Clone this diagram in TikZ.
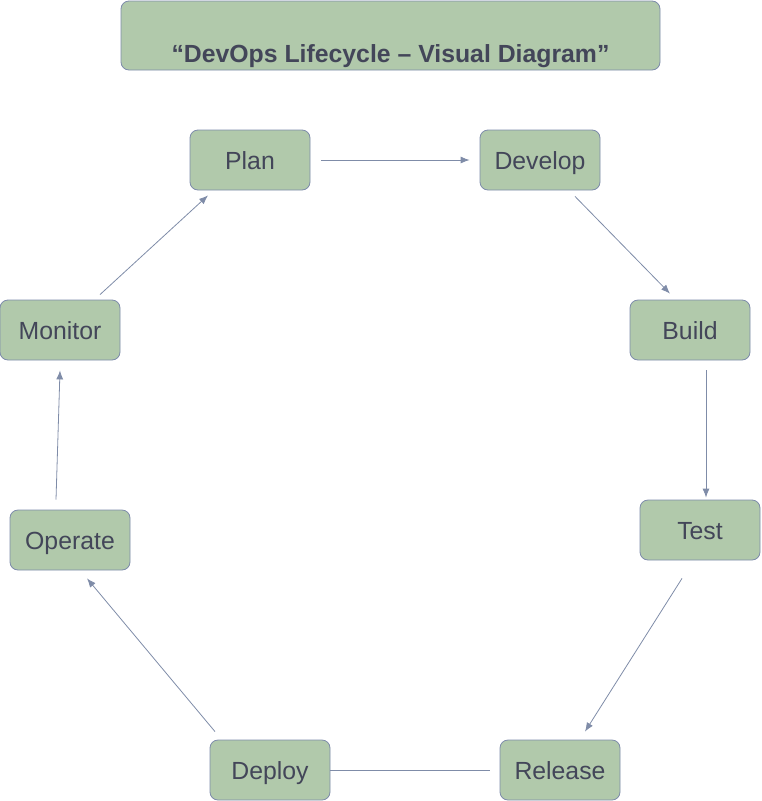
\documentclass[tikz,border=0pt]{standalone}
\usepackage{fontspec}
\setmainfont{Liberation Sans}
\usetikzlibrary{positioning}
\usetikzlibrary{calc}
\usetikzlibrary{arrows.meta}

\definecolor{boxfill}{HTML}{B1C9AB}
\definecolor{boxline}{HTML}{7D8BAA}
\definecolor{boxtext}{HTML}{434659}
\definecolor{flowline}{HTML}{7F8CA8}

\begin{document}
\begin{tikzpicture}[x=1pt,y=-1pt]
\tikzstyle{stage} =[rectangle,rounded corners=8pt,fill=boxfill,draw=boxline,line width=0.8pt,minimum width=120pt,minimum height=60pt,inner sep=0pt,text height=22pt,text depth=4pt,text=boxtext,font=\fontsize{24.8}{28}\selectfont]
\tikzstyle{titlebox} =[stage,minimum width=539pt,minimum height=69pt,text height=55pt,text depth=2pt,font=\fontsize{24.8}{28}\selectfont\bfseries]
\tikzstyle{flow} =[draw=flowline,line width=0.8pt,-{Latex[length=9pt,width=7pt]}]
\useasboundingbox (0,0) rectangle (762,801);

\node[titlebox](title) at (390.5,35.5){``DevOps Lifecycle -- Visual Diagram''};

\node[stage](Plan) at (250,160){Plan};
\node[stage](Develop) at (540,160){Develop};
\node[stage](Build) at (690,330){Build};
\node[stage](Test) at (700,530){Test};
\node[stage](Release) at (560,770){Release};
\node[stage](Deploy) at (270,770){Deploy};
\node[stage](Operate) at (70,540){Operate};
\node[stage](Monitor) at (60,330){Monitor};

\draw[flow,shorten <=11pt,shorten >=10pt] (Plan)--(Develop);
\draw[flow] ([xshift=35pt,yshift=-6pt]Develop.south)--([xshift=-20pt,yshift=6pt]Build.north);
\draw[flow] ([xshift=16pt,yshift=-10pt]Build.south)--([xshift=6pt,yshift=2pt]Test.north);
\draw[flow] ([xshift=-18pt,yshift=-18pt]Test.south)--([xshift=25pt,yshift=8pt]Release.north);
\draw[draw=flowline,line width=0.8pt] ([xshift=-10pt]Release.west)--(Deploy.east);
\draw[flow] ([xshift=-55pt,yshift=8pt]Deploy.north)--([xshift=17pt,yshift=-8pt]Operate.south);
\draw[flow] ([xshift=-14pt,yshift=10pt]Operate.north)--([yshift=-10pt]Monitor.south);
\draw[flow] ([xshift=40pt,yshift=5pt]Monitor.north)--([xshift=-42pt,yshift=-5pt]Plan.south);
\end{tikzpicture}
\end{document}
